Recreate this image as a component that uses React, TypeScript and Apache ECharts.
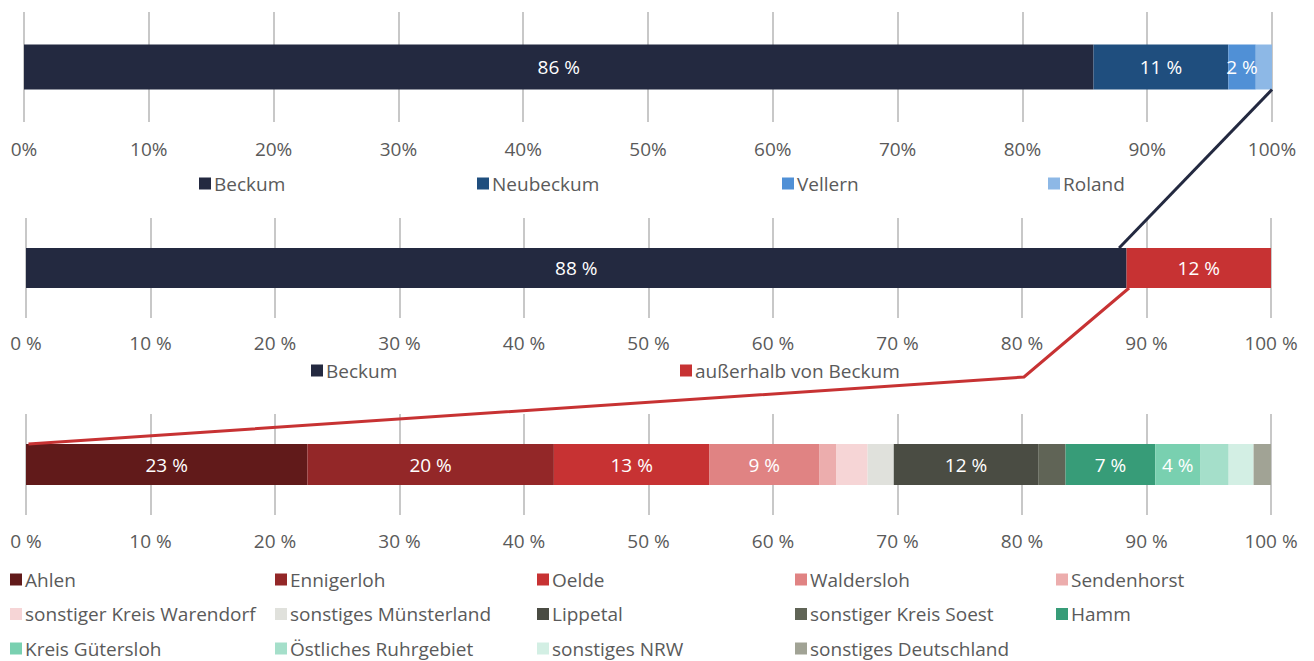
import React, { useEffect, useRef } from "react";
import * as echarts from "echarts";

// ---- Data ----
const top1Names = ["Beckum", "Neubeckum", "Vellern", "Roland"];
const top1Values = [85.7, 10.8, 2.2, 1.3];
const top1ShowLabel = [true, true, true, false];
const top1Colors = ["#232940", "#1f4e7e", "#5090d6", "#8db8e6"];

const mid2Names = ["Beckum", "außerhalb von Beckum"];
const mid2Values = [88.4, 11.6];
const mid2ShowLabel = [true, true];
const mid2Colors = ["#232940", "#c73233"];

const bot3Names = [
  "Ahlen",
  "Ennigerloh",
  "Oelde",
  "Waldersloh",
  "Sendenhorst",
  "sonstiger Kreis Warendorf",
  "sonstiges Münsterland",
  "Lippetal",
  "sonstiger Kreis Soest",
  "Hamm",
  "Kreis Gütersloh",
  "Östliches Ruhrgebiet",
  "sonstiges NRW",
  "sonstiges Deutschland",
];
const bot3Values = [22.6, 19.8, 12.5, 8.8, 1.4, 2.5, 2.1, 11.6, 2.2, 7.2, 3.6, 2.3, 2.0, 1.4];
const bot3ShowLabel = [true, true, true, true, false, false, false, true, false, true, true, false, false, false];
const bot3Colors = [
  "#611a1a", "#932728", "#c73233", "#e08383", "#ecadad", "#f6d5d6", "#e0e1dc",
  "#4a4c43", "#606456", "#379c78", "#79d0b0", "#a5dfca", "#d3efe4", "#a1a395",
];

const tickValues = [0, 10, 20, 30, 40, 50, 60, 70, 80, 90, 100];

// ---- Layout ----
const FONT = "'Open Sans', Lato, sans-serif";
const FONT_WEIGHT = 400;
const FONT_SIZE = 19;
const TEXT_COLOR = "#5a5a5a";
const grids = [
  { left: 24, right: 42, top: 12, height: 110, barWidth: 45, margin: 17, fmt: (v: number) => v + "%" },
  { left: 26, right: 43, top: 218, height: 100, barWidth: 40, margin: 15, fmt: (v: number) => v + " %" },
  { left: 26, right: 43, top: 414, height: 101, barWidth: 41, margin: 16, fmt: (v: number) => v + " %" },
];
const legend1Pos = [[199, 184], [477, 184], [782, 184], [1048, 184]];
const legend2Pos = [[311, 371], [680, 371]];
const colX = [10, 275, 537, 795, 1056];
const rowY = [580, 614.5, 649];
const legend3Pos = bot3Names.map((_, i) => [colX[i % 5], rowY[Math.floor(i / 5)]]);

export default function App() {
  const ref = useRef<HTMLDivElement>(null);
  useEffect(() => {
    if (!ref.current) return;
    const chart = echarts.init(ref.current, undefined, { renderer: "svg" });

    const groups = [
      { names: top1Names, values: top1Values, show: top1ShowLabel, colors: top1Colors, pos: legend1Pos },
      { names: mid2Names, values: mid2Values, show: mid2ShowLabel, colors: mid2Colors, pos: legend2Pos },
      { names: bot3Names, values: bot3Values, show: bot3ShowLabel, colors: bot3Colors, pos: legend3Pos },
    ];

    const series: any[] = [];
    const legends: any[] = [];
    groups.forEach((g, gi) => {
      g.names.forEach((n, i) => {
        series.push({
          type: "bar",
          name: n,
          stack: "s" + gi,
          xAxisIndex: gi,
          yAxisIndex: gi,
          barWidth: grids[gi].barWidth,
          data: [g.values[i]],
          itemStyle: { color: g.colors[i] },
          label: {
            show: g.show[i],
            position: "inside",
            color: "#ffffff",
            fontFamily: FONT,
            fontWeight: FONT_WEIGHT,
            fontSize: FONT_SIZE,
            formatter: (p: any) => Math.round(p.value) + " %",
          },
          emphasis: { disabled: true },
        });
        legends.push({
          data: [{ name: n, itemStyle: { color: g.colors[i] } }],
          left: g.pos[i][0] - 5,
          top: g.pos[i][1] - 15,
          icon: "rect",
          itemWidth: 12,
          itemHeight: 12,
          selectedMode: false,
          textStyle: {
            color: TEXT_COLOR,
            fontFamily: FONT,
            fontWeight: FONT_WEIGHT,
            fontSize: FONT_SIZE,
            padding: [0, 0, 0, -2],
          },
        });
      });
    });

    chart.setOption({
      animation: false,
      grid: grids.map((g) => ({ left: g.left, right: g.right, top: g.top, height: g.height })),
      xAxis: grids.map((g, gi) => ({
        type: "value",
        gridIndex: gi,
        min: tickValues[0],
        max: tickValues[tickValues.length - 1],
        interval: tickValues[1] - tickValues[0],
        axisLine: { show: false },
        axisTick: { show: false },
        splitLine: { show: true, lineStyle: { color: "#c8c8c8", width: 2 } },
        axisLabel: {
          color: TEXT_COLOR,
          fontFamily: FONT,
          fontWeight: FONT_WEIGHT,
          fontSize: FONT_SIZE,
          margin: g.margin,
          formatter: g.fmt,
        },
      })),
      yAxis: grids.map((_, gi) => ({
        type: "category",
        gridIndex: gi,
        data: ["x"],
        show: false,
      })),
      legend: legends,
      series,
    });

    // connector lines computed from the axes
    const px = (gi: number, v: number) =>
      chart.convertToPixel({ xAxisIndex: gi, yAxisIndex: gi } as any, [v, 0]) as number[];
    const p1 = px(0, 100);
    const bottom1 = p1[1] + grids[0].barWidth / 2;
    const beckumEnd2 = px(1, mid2Values[0] - 0.6);
    const top2 = beckumEnd2[1] - grids[1].barWidth / 2;
    const outStart = px(1, mid2Values[0] + 0.2);
    const bottom2 = outStart[1] + grids[1].barWidth / 2;
    const bend = px(1, 80);
    const start3 = px(2, 0.2);
    const top3 = start3[1] - grids[2].barWidth / 2;

    chart.setOption({
      graphic: [
        {
          type: "line",
          shape: { x1: p1[0], y1: bottom1, x2: beckumEnd2[0], y2: top2 },
          style: { stroke: "#232940", lineWidth: 3 },
          z: 10,
        },
        {
          type: "polyline",
          shape: {
            points: [
              [outStart[0], bottom2],
              [bend[0] + 2, 377],
              [start3[0], top3],
            ],
          },
          style: { stroke: "#c73233", lineWidth: 3, fill: null },
          z: 10,
        },
      ],
    });

    return () => chart.dispose();
  }, []);
  return <div ref={ref} style={{ width: 1314, height: 661, position: "absolute", left: 0, top: 0 }} />;
}
